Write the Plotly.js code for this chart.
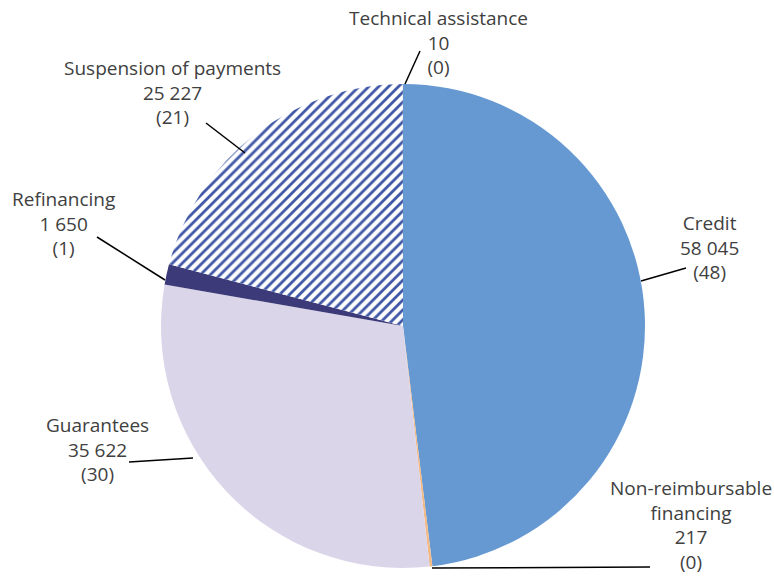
<!DOCTYPE html>
<html>
<head>
<meta charset="utf-8">
<script src="https://cdn.plot.ly/plotly-3.0.1.min.js"></script>
<style>html,body{margin:0;padding:0;background:#fff;}#chart{width:774px;height:576px;}</style>
</head>
<body>
<div id="chart"></div>
<script>
// ---- data ----
const categories = ["Credit", "Non-reimbursable financing", "Guarantees", "Refinancing", "Suspension of payments", "Technical assistance"];
const labelNames = ["Credit", "Non-reimbursable<br>financing", "Guarantees", "Refinancing", "Suspension of payments", "Technical assistance"];
const values = [58045, 217, 35622, 1650, 25227, 10];
const shares = [48, 0, 30, 1, 21, 0];

// ---- styles ----
const colors = ["#6699D2", "#F2B984", "#DBD5EA", "#3C3A78", "#FFFFFF", "#A5A5A5"];
const patterns = ["", "", "", "", "/", ""];

const W = 774, H = 576;
const px = x => x / W;
const py = y => 1 - y / H;

// label placement (pixels) and leader lines
const labelPos = [
  {x: 709, y: 247, line: [641, 281, 686, 268]},
  {x: 691, y: 525, line: [432, 568, 650, 567]},
  {x: 97,  y: 449, line: [193, 458, 129, 462]},
  {x: 63,  y: 224, line: [165, 280, 97, 237]},
  {x: 172, y: 92.5, line: [245, 153, 206, 123]},
  {x: 438, y: 42.5, line: [405, 84, 420, 51]}
];

function fmt(v) {
  return String(v).replace(/\B(?=(\d{3})+(?!\d))/g, " ");
}

const annotations = categories.map((c, i) => ({
  xref: "paper", yref: "paper",
  x: px(labelPos[i].x), y: py(labelPos[i].y),
  xanchor: "center", yanchor: "middle", align: "center",
  showarrow: false,
  text: labelNames[i] + "<br>" + fmt(values[i]) + "<br>(" + shares[i] + ")",
  font: {family: "Open Sans, sans-serif", size: 19, color: "#404040"}
}));

const shapes = labelPos.map(p => ({
  type: "line", xref: "paper", yref: "paper",
  x0: px(p.line[0]), y0: py(p.line[1]), x1: px(p.line[2]), y1: py(p.line[3]),
  line: {color: "#000000", width: 1.5}
}));

const trace = {
  type: "pie",
  labels: categories,
  values: values,
  sort: false,
  direction: "clockwise",
  rotation: 0,
  textinfo: "none",
  hoverinfo: "none",
  showlegend: false,
  domain: {x: [px(161), px(645)], y: [py(568), py(84)]},
  marker: {
    colors: colors,
    line: {width: 0},
    pattern: {shape: patterns, fgcolor: "#3F57A6", size: 7, solidity: 0.4, fillmode: "replace"}
  }
};

const layout = {
  width: W, height: H,
  margin: {l: 0, r: 0, t: 0, b: 0},
  paper_bgcolor: "#FFFFFF",
  annotations: annotations,
  shapes: shapes
};

Plotly.newPlot("chart", [trace], layout, {displayModeBar: false, staticPlot: true});
</script>
</body>
</html>
